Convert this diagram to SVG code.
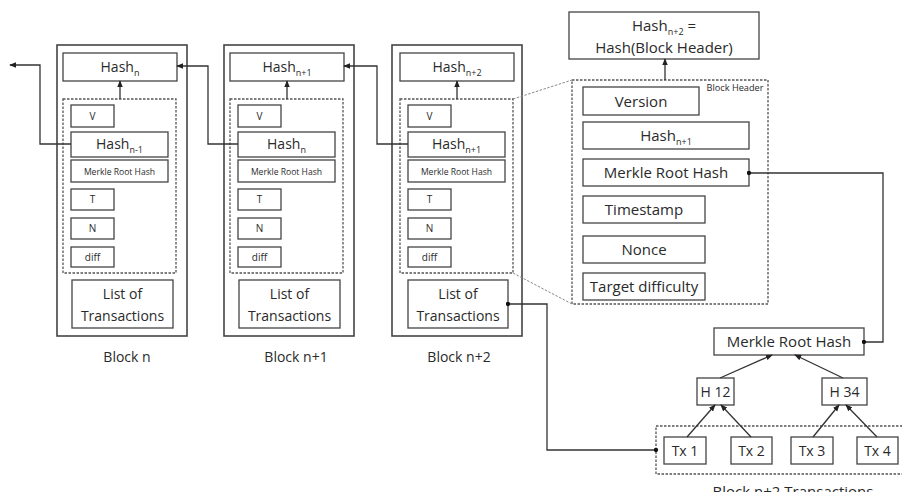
<svg xmlns="http://www.w3.org/2000/svg" width="902" height="492" viewBox="0 0 902 492">
<defs>
<marker id="arr" viewBox="0 0 8 8" refX="7" refY="4" markerWidth="7" markerHeight="7" orient="auto" markerUnits="userSpaceOnUse">
<path d="M0,0.8 L8,4 L0,7.2 z" fill="#222"/>
</marker>
<marker id="dot" viewBox="0 0 6 6" refX="3" refY="3" markerWidth="5" markerHeight="5" markerUnits="userSpaceOnUse">
<circle cx="3" cy="3" r="2.6" fill="#111"/>
</marker>
<style>
.box{fill:#fff;stroke:#444;stroke-width:1.3}
.outer{fill:#fff;stroke:#444;stroke-width:1.6}
.dash{fill:none;stroke:#555;stroke-width:1.3;stroke-dasharray:2.5,1.5}
.pers{fill:none;stroke:#888;stroke-width:1;stroke-dasharray:2.5,1.5}
.ln{fill:none;stroke:#333;stroke-width:1.3}
text{font-family:"Open Sans","Liberation Sans",sans-serif;fill:#2a2a2a;text-anchor:middle}
.t14{font-size:14px}
.t15{font-size:15px}
.t10{font-size:10px}
.t9{font-size:8.6px}
.t8{font-size:9.2px}
.sub{font-size:9px}
</style>
</defs>

<g id="block-n">
<rect class="outer" x="57" y="45" width="130" height="291"/>
<rect class="box" x="63" y="53" width="114" height="28"/>
<text class="t14" x="120" y="72">Hash<tspan class="sub" dy="4">n</tspan></text>
<rect class="dash" x="63" y="99" width="113" height="174"/>
<rect class="box" x="71" y="105" width="43" height="22"/>
<text class="t10" x="92.5" y="120">V</text>
<rect class="box" x="71" y="132" width="97" height="25"/>
<text class="t14" x="119.5" y="149">Hash<tspan class="sub" dy="4">n-1</tspan></text>
<rect class="box" x="71" y="160" width="97" height="22"/>
<text class="t9" x="119.5" y="174.5">Merkle Root Hash</text>
<rect class="box" x="71" y="189" width="43" height="21"/>
<text class="t10" x="92.5" y="203">T</text>
<rect class="box" x="71" y="218" width="43" height="21"/>
<text class="t10" x="92.5" y="232">N</text>
<rect class="box" x="71" y="247" width="43" height="20"/>
<text class="t10" x="92.5" y="261">diff</text>
<rect class="box" x="72" y="280" width="101" height="48"/>
<text class="t14" x="122.5" y="299">List of</text>
<text class="t14" x="122.5" y="321">Transactions</text>
<text class="t14" x="127" y="362">Block n</text>
</g>

<g id="block-n1" transform="translate(167,0)">
<rect class="outer" x="57" y="45" width="130" height="291"/>
<rect class="box" x="63" y="53" width="114" height="28"/>
<text class="t14" x="120" y="72">Hash<tspan class="sub" dy="4">n+1</tspan></text>
<rect class="dash" x="63" y="99" width="113" height="174"/>
<rect class="box" x="71" y="105" width="43" height="22"/>
<text class="t10" x="92.5" y="120">V</text>
<rect class="box" x="71" y="132" width="97" height="25"/>
<text class="t14" x="119.5" y="149">Hash<tspan class="sub" dy="4">n</tspan></text>
<rect class="box" x="71" y="160" width="97" height="22"/>
<text class="t9" x="119.5" y="174.5">Merkle Root Hash</text>
<rect class="box" x="71" y="189" width="43" height="21"/>
<text class="t10" x="92.5" y="203">T</text>
<rect class="box" x="71" y="218" width="43" height="21"/>
<text class="t10" x="92.5" y="232">N</text>
<rect class="box" x="71" y="247" width="43" height="20"/>
<text class="t10" x="92.5" y="261">diff</text>
<rect class="box" x="72" y="280" width="101" height="48"/>
<text class="t14" x="122.5" y="299">List of</text>
<text class="t14" x="122.5" y="321">Transactions</text>
<text class="t14" x="129" y="362">Block n+1</text>
</g>

<g id="block-n2" transform="translate(335,0)">
<rect class="outer" x="57" y="45" width="130" height="291"/>
<rect class="box" x="65" y="53" width="114" height="28"/>
<text class="t14" x="122" y="72">Hash<tspan class="sub" dy="4">n+2</tspan></text>
<rect class="dash" x="65" y="99" width="113" height="174"/>
<rect class="box" x="73" y="105" width="43" height="22"/>
<text class="t10" x="94.5" y="120">V</text>
<rect class="box" x="73" y="132" width="97" height="25"/>
<text class="t14" x="121.5" y="149">Hash<tspan class="sub" dy="4">n+1</tspan></text>
<rect class="box" x="73" y="160" width="97" height="22"/>
<text class="t9" x="121.5" y="174.5">Merkle Root Hash</text>
<rect class="box" x="73" y="189" width="43" height="21"/>
<text class="t10" x="94.5" y="203">T</text>
<rect class="box" x="73" y="218" width="43" height="21"/>
<text class="t10" x="94.5" y="232">N</text>
<rect class="box" x="73" y="247" width="43" height="20"/>
<text class="t10" x="94.5" y="261">diff</text>
<rect class="box" x="73" y="280" width="100" height="48"/>
<text class="t14" x="123" y="299">List of</text>
<text class="t14" x="123" y="321">Transactions</text>
<text class="t14" x="124" y="362">Block n+2</text>
</g>

<g id="hash-header">
<rect class="box" x="569" y="12" width="190" height="47"/>
<text class="t15" x="664" y="31">Hash<tspan class="sub" dy="4">n+2</tspan><tspan dy="-4"> =</tspan></text>
<text class="t15" x="664" y="53">Hash(Block Header)</text>
</g>

<g id="block-header">
<rect class="dash" x="572" y="80" width="196" height="224"/>
<text class="t8" x="735" y="91">Block Header</text>
<rect class="box" x="583" y="87" width="116" height="28"/>
<text class="t15" x="641" y="107">Version</text>
<rect class="box" x="583" y="122" width="166" height="27"/>
<text class="t15" x="666" y="141">Hash<tspan class="sub" dy="4">n+1</tspan></text>
<rect class="box" x="583" y="159" width="166" height="27"/>
<text class="t15" x="666" y="178">Merkle Root Hash</text>
<rect class="box" x="583" y="196" width="122" height="27"/>
<text class="t15" x="644" y="215">Timestamp</text>
<rect class="box" x="583" y="236" width="122" height="27"/>
<text class="t15" x="644" y="255">Nonce</text>
<rect class="box" x="583" y="273" width="122" height="27"/>
<text class="t15" x="644" y="292">Target difficulty</text>
</g>

<g id="merkle-root">
<rect class="box" x="714" y="328" width="150" height="27"/>
<text class="t15" x="789" y="347">Merkle Root Hash</text>
</g>
<g id="h12">
<rect class="box" x="697" y="378" width="37" height="27"/>
<text class="t14" x="715.5" y="397">H 12</text>
</g>
<g id="h34">
<rect class="box" x="822" y="378" width="45" height="27"/>
<text class="t14" x="844.5" y="397">H 34</text>
</g>
<g id="transactions">
<rect class="dash" x="656" y="426" width="260" height="48"/>
<text class="t15" x="793" y="497">Block n+2 Transactions</text>
</g>
<g id="tx1"><rect class="box" x="664" y="437" width="42" height="27"/><text class="t14" x="685" y="456">Tx 1</text></g>
<g id="tx2"><rect class="box" x="731" y="437" width="41" height="27"/><text class="t14" x="751.5" y="456">Tx 2</text></g>
<g id="tx3"><rect class="box" x="791" y="437" width="42" height="27"/><text class="t14" x="812" y="456">Tx 3</text></g>
<g id="tx4"><rect class="box" x="857" y="437" width="41" height="27"/><text class="t14" x="877.5" y="456">Tx 4</text></g>

<g id="connectors">
<polyline class="ln" points="71,144 40,144 40,65 10,65" marker-end="url(#arr)"/>
<polyline class="ln" points="238,144 208,144 208,66 177,66" marker-end="url(#arr)"/>
<polyline class="ln" points="408,144 377,144 377,66 344,66" marker-end="url(#arr)"/>
<line class="ln" x1="120" y1="99" x2="120" y2="81" marker-end="url(#arr)"/>
<line class="ln" x1="287" y1="99" x2="287" y2="81" marker-end="url(#arr)"/>
<line class="ln" x1="457" y1="99" x2="457" y2="81" marker-end="url(#arr)"/>
<line class="ln" x1="665" y1="80" x2="665" y2="59" marker-end="url(#arr)"/>
<line class="pers" x1="513" y1="99" x2="572" y2="80"/>
<line class="pers" x1="513" y1="273" x2="572" y2="304"/>
<polyline class="ln" points="749,173 883,173 883,342 864,342" marker-start="url(#dot)" marker-end="url(#dot)"/>
<polyline class="ln" points="508,304 547,304 547,450 656,450" marker-start="url(#dot)" marker-end="url(#dot)"/>
<line class="ln" x1="720" y1="378" x2="772" y2="355" marker-end="url(#arr)"/>
<line class="ln" x1="843" y1="378" x2="795" y2="355" marker-end="url(#arr)"/>
<line class="ln" x1="687" y1="437" x2="715" y2="405" marker-end="url(#arr)"/>
<line class="ln" x1="751" y1="437" x2="721" y2="405" marker-end="url(#arr)"/>
<line class="ln" x1="813" y1="437" x2="839" y2="405" marker-end="url(#arr)"/>
<line class="ln" x1="877" y1="437" x2="846" y2="405" marker-end="url(#arr)"/>
</g>
</svg>
